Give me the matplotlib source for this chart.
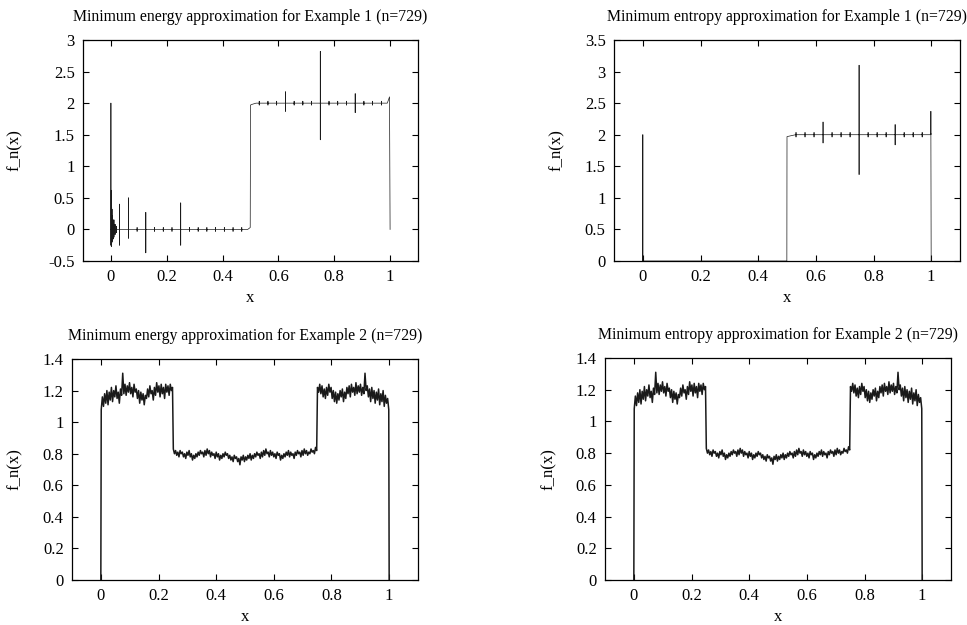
import numpy as np
import matplotlib
matplotlib.use("Agg")
import matplotlib.pyplot as plt

plt.rcParams['font.family'] = ['Liberation Serif', 'DejaVu Serif']

# ---- Example 1: step 0 -> 2 at x=0.5, with spikes at dyadic points ----
# minimum energy
e1_base_x = [0.0, 0.49, 0.499, 0.5, 0.505, 0.52, 0.99, 0.998, 1.0]
e1_base_y = [0.0, 0.0, 0.03, 1.97, 1.98, 2.0, 2.0, 2.10, 0.0]
e1_spike_x = [0.0, 0.0014, 0.0027, 0.0041, 0.0055, 0.0082, 0.0110, 0.0151,
              0.0205, 0.03125, 0.0625, 0.125, 0.25, 0.625, 0.75, 0.875]
e1_spike_hi = [2.0, 0.62, 0.35, 0.32, 0.22, 0.15, 0.15, 0.08,
               0.05, 0.40, 0.50, 0.27, 0.42, 2.18, 2.82, 2.15]
e1_spike_lo = [-0.25, -0.27, -0.22, -0.20, -0.18, -0.15, -0.12, -0.08,
               -0.05, -0.25, -0.14, -0.37, -0.25, 1.87, 1.42, 1.85]
e1_tick_x = [0.09375, 0.15625, 0.1875, 0.21875, 0.28125, 0.3125, 0.34375,
             0.375, 0.40625, 0.4375, 0.46875, 0.53125, 0.5625, 0.59375,
             0.65625, 0.6875, 0.71875, 0.78125, 0.8125, 0.84375, 0.90625,
             0.9375, 0.96875]
e1_tick_amp = 0.03

# minimum entropy
n1_base_x = [0.0, 0.4995, 0.5, 0.51, 0.53, 0.997, 0.999, 1.0]
n1_base_y = [0.0, 0.0, 1.97, 1.98, 2.0, 2.0, 2.02, 0.0]
n1_spike_x = [0.0, 0.625, 0.75, 0.875, 0.999]
n1_spike_hi = [2.0, 2.20, 3.10, 2.16, 2.37]
n1_spike_lo = [0.0, 1.87, 1.37, 1.84, 2.0]
n1_tick_x = [0.53125, 0.5625, 0.59375, 0.65625, 0.6875, 0.71875, 0.78125,
             0.8125, 0.84375, 0.90625, 0.9375, 0.96875]
n1_tick_amp = 0.035

# ---- Example 2: plateaus 1.2 / 0.8 / 1.2 with fine oscillation ----
ex2_left = [
    1.08, 1.16, 1.10, 1.18, 1.12, 1.20, 1.11, 1.19, 1.14, 1.22,
    1.13, 1.20, 1.16, 1.23, 1.15, 1.19, 1.12, 1.21, 1.17, 1.31,
    1.18, 1.24, 1.17, 1.23, 1.19, 1.25, 1.18, 1.22, 1.16, 1.24,
    1.19, 1.21, 1.15, 1.20, 1.12, 1.19, 1.14, 1.18, 1.11, 1.17,
    1.15, 1.21, 1.16, 1.23, 1.18, 1.20, 1.14, 1.22, 1.17, 1.25,
    1.19, 1.23, 1.16, 1.24, 1.18, 1.22, 1.15, 1.24, 1.19, 1.23,
    1.17, 1.24, 1.20, 1.22]
ex2_mid = [
    0.83, 0.80, 0.82, 0.79, 0.81, 0.78, 0.82, 0.80, 0.81, 0.78,
    0.80, 0.77, 0.81, 0.79, 0.82, 0.78, 0.80, 0.76, 0.79, 0.77,
    0.80, 0.78, 0.81, 0.79, 0.82, 0.80, 0.81, 0.78, 0.82, 0.79,
    0.83, 0.80, 0.82, 0.78, 0.81, 0.79, 0.80, 0.77, 0.81, 0.78,
    0.80, 0.76, 0.79, 0.77, 0.80, 0.78, 0.81, 0.79, 0.80, 0.77,
    0.79, 0.76, 0.78, 0.75, 0.79, 0.77, 0.78, 0.75, 0.77, 0.73,
    0.78, 0.76, 0.79, 0.75, 0.78, 0.76, 0.79, 0.77, 0.80, 0.76,
    0.79, 0.77, 0.80, 0.78, 0.81, 0.79, 0.80, 0.77, 0.81, 0.78,
    0.82, 0.79, 0.83, 0.80, 0.81, 0.78, 0.82, 0.79, 0.81, 0.78,
    0.80, 0.77, 0.81, 0.79, 0.80, 0.76, 0.79, 0.77, 0.80, 0.78,
    0.81, 0.79, 0.82, 0.78, 0.81, 0.79, 0.80, 0.77, 0.81, 0.79,
    0.82, 0.80, 0.81, 0.78, 0.82, 0.79, 0.83, 0.80, 0.82, 0.79,
    0.81, 0.80, 0.83, 0.81, 0.82, 0.80, 0.84, 0.82]
ex2_right = [
    1.22, 1.19, 1.24, 1.18, 1.23, 1.16, 1.21, 1.15, 1.22, 1.17,
    1.24, 1.19, 1.22, 1.15, 1.20, 1.13, 1.19, 1.12, 1.18, 1.14,
    1.20, 1.16, 1.21, 1.13, 1.19, 1.15, 1.22, 1.18, 1.23, 1.16,
    1.24, 1.19, 1.22, 1.17, 1.25, 1.18, 1.23, 1.19, 1.24, 1.17,
    1.22, 1.18, 1.31, 1.20, 1.23, 1.16, 1.21, 1.13, 1.22, 1.15,
    1.20, 1.12, 1.19, 1.14, 1.21, 1.11, 1.18, 1.13, 1.20, 1.10,
    1.17, 1.12, 1.15, 1.08]
# the entropy result for example 2 is visually the same as the energy one
ex2_entropy_left, ex2_entropy_mid, ex2_entropy_right = ex2_left, ex2_mid, ex2_right

titles = ["Minimum energy approximation for Example 1 (n=729)",
          "Minimum entropy approximation for Example 1 (n=729)",
          "Minimum energy approximation for Example 2 (n=729)",
          "Minimum entropy approximation for Example 2 (n=729)"]


def spiky_curve(base_x, base_y, sx, shi, slo, tx, tamp):
    pts = list(zip(base_x, base_y))
    b = lambda x: np.interp(x, base_x, base_y)
    for x, hi, lo in zip(sx, shi, slo):
        pts += [(x, b(x)), (x, hi), (x, lo), (x, b(x))]
    for x in tx:
        pts += [(x, b(x)), (x, b(x) + tamp), (x, b(x) - tamp), (x, b(x))]
    # stable sort keeps the order of the vertical strokes
    pts = sorted(enumerate(pts), key=lambda p: (p[1][0], p[0] >= len(base_x), p[0]))
    pts = [p for _, p in pts]
    return np.array([p[0] for p in pts]), np.array([p[1] for p in pts])


def plateau_curve(left, mid, right):
    x = np.concatenate([[0.0], np.linspace(0.0014, 0.2486, len(left)),
                        np.linspace(0.2514, 0.7486, len(mid)),
                        np.linspace(0.7514, 0.9986, len(right)), [1.0]])
    y = np.concatenate([[0.0], left, mid, right, [0.0]])
    return x, y


fig = plt.figure(figsize=(9.67, 6.25), dpi=100)
W, H = 967, 625
boxes = [(83, 418, 40, 261), (614, 960, 40, 261),
         (72, 418, 359, 580), (605, 951, 358, 580)]
ylims = [(-0.5, 3), (0, 3.5), (0, 1.4), (0, 1.4)]
yticks = [np.arange(-0.5, 3.01, 0.5), np.arange(0, 3.51, 0.5),
          np.arange(0, 1.41, 0.2), np.arange(0, 1.41, 0.2)]
ylab_x = [23, 565, 23, 557]
line_w = [0.5, 0.5, 1.1, 1.1]

curves = [spiky_curve(e1_base_x, e1_base_y, e1_spike_x, e1_spike_hi, e1_spike_lo,
                      e1_tick_x, e1_tick_amp),
          spiky_curve(n1_base_x, n1_base_y, n1_spike_x, n1_spike_hi, n1_spike_lo,
                      n1_tick_x, n1_tick_amp),
          plateau_curve(ex2_left, ex2_mid, ex2_right),
          plateau_curve(ex2_entropy_left, ex2_entropy_mid, ex2_entropy_right)]

for i, (l, r, t, b) in enumerate(boxes):
    ax = fig.add_axes([l / W, (H - b) / H, (r - l) / W, (b - t) / H])
    x, y = curves[i]
    ax.plot(x, y, color='#1a1a1a', lw=line_w[i])
    ax.set_xlim(-0.1, 1.1)
    ax.set_ylim(*ylims[i])
    ax.set_xticks([0, 0.2, 0.4, 0.6, 0.8, 1])
    ax.set_xticklabels(['0', '0.2', '0.4', '0.6', '0.8', '1'])
    ax.set_yticks(yticks[i])
    ax.set_yticklabels(['%g' % v for v in np.round(yticks[i], 2)])
    ax.tick_params(direction='in', top=True, right=True, length=4, width=0.8,
                   labelsize=12, pad=6)
    for s in ax.spines.values():
        s.set_linewidth(0.9)
    ax.set_title(titles[i], fontsize=11.3, pad=14)
    ax.set_xlabel('x', fontsize=12)
    ax.xaxis.set_label_coords(0.5, -0.13)
    ax.set_ylabel('f_n(x)', fontsize=12)
    ax.yaxis.set_label_coords((ylab_x[i] - l) / (r - l), 0.5)

fig.savefig('out.png', dpi=100)
